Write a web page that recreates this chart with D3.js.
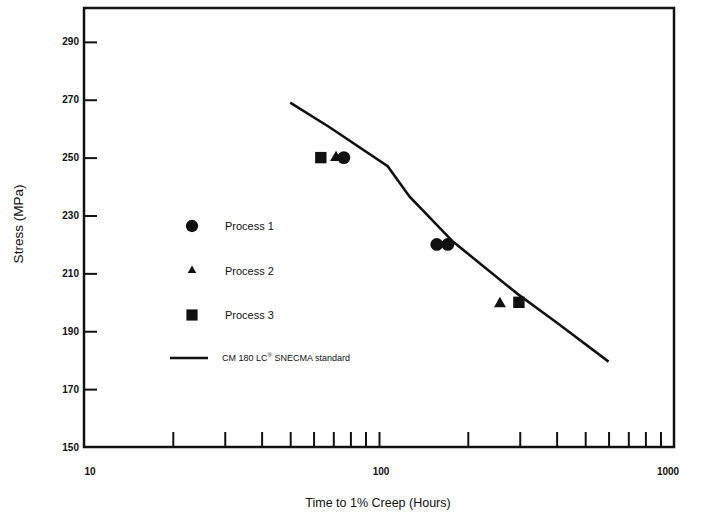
<!DOCTYPE html>
<html>
<head>
<meta charset="utf-8">
<script src="https://cdn.jsdelivr.net/npm/d3@7/dist/d3.min.js"></script>
<style>
  html, body { margin: 0; padding: 0; background: #fff; }
  svg { display: block; }
  text { font-family: "Liberation Sans", Arial, sans-serif; fill: #111; }
</style>
</head>
<body>
<svg id="chart" width="705" height="517"></svg>
<script>
// Creep data: time to 1% creep (hours) vs. applied stress (MPa)
const process1 = [ { t: 157, s: 220 }, { t: 171, s: 220 }, { t: 76, s: 250 } ];
const process2 = [ { t: 71.5, s: 250 }, { t: 257, s: 199.5 } ];
const process3 = [ { t: 63.5, s: 250 }, { t: 298, s: 200 } ];

// CM 180 LC SNECMA standard curve
const standardCurve = [
  { t: 50, s: 269 }, { t: 68, s: 260.5 }, { t: 107, s: 247 }, { t: 127, s: 236.5 },
  { t: 178, s: 221 }, { t: 294, s: 203 }, { t: 400, s: 193 }, { t: 600, s: 179.5 }
];

const yTicks = [170, 190, 210, 230, 250, 270, 290];
const yLabels = [150, 170, 190, 210, 230, 250, 270, 290];
const xLabels = [10, 100, 1000];
const xMinorTicks = [20, 30, 40, 50, 60, 70, 80, 90, 100, 200, 300, 400, 500, 600, 700, 800, 900];

const legendItems = [
  { label: "Process 1", shape: "circle" },
  { label: "Process 2", shape: "triangle" },
  { label: "Process 3", shape: "square" }
];

const svg = d3.select("#chart");
const L = 84, R = 674, T = 8, B = 447;

const x = d3.scaleLog().domain([10, 1000]).range([L, R]);
const y = d3.scaleLinear().domain([150, 301.7]).range([B, T]);

// Inward ticks along the bottom
const xAxis = d3.axisTop(x).tickValues(xMinorTicks).tickSize(15).tickFormat("");
svg.append("g").attr("transform", `translate(0,${B})`).call(xAxis)
  .call(g => g.select(".domain").remove())
  .call(g => g.selectAll("line").attr("stroke", "#111").attr("stroke-width", 2));

// Inward ticks along the left side
const yAxis = d3.axisRight(y).tickValues(yTicks).tickSize(13).tickFormat("");
svg.append("g").attr("transform", `translate(${L},0)`).call(yAxis)
  .call(g => g.select(".domain").remove())
  .call(g => g.selectAll("line").attr("stroke", "#111").attr("stroke-width", 2));

// Frame
svg.append("rect").attr("x", L).attr("y", T).attr("width", R - L).attr("height", B - T)
  .attr("fill", "none").attr("stroke", "#111").attr("stroke-width", 2.5);

// Tick labels
svg.append("g").selectAll("text").data(yLabels).join("text")
  .attr("x", 79).attr("y", d => y(d) + 3.5)
  .attr("text-anchor", "end").attr("font-size", 10).attr("font-weight", "bold")
  .text(d => d);

svg.append("g").selectAll("text").data(xLabels).join("text")
  .attr("x", (d, i) => x(d) + (i === 0 ? 6 : i === 2 ? -6 : 2)).attr("y", 475)
  .attr("text-anchor", "middle").attr("font-size", 10).attr("font-weight", "bold")
  .text(d => d);

// Axis titles
svg.append("text").attr("x", 378).attr("y", 507).attr("text-anchor", "middle")
  .attr("font-size", 12.5).text("Time to 1% Creep (Hours)");
svg.append("text").attr("transform", "translate(23,224) rotate(-90)")
  .attr("text-anchor", "middle").attr("font-size", 13.5).text("Stress (MPa)");

// Standard curve
const line = d3.line().x(d => x(d.t)).y(d => y(d.s));
svg.append("path").datum(standardCurve).attr("d", line)
  .attr("fill", "none").attr("stroke", "#111").attr("stroke-width", 2.6);

// Markers
const sym = {
  circle: d3.symbol().type(d3.symbolCircle).size(130),
  triangle: d3.symbol().type(d3.symbolTriangle).size(62),
  square: d3.symbol().type(d3.symbolSquare).size(130)
};
function drawMarkers(data, shape) {
  svg.append("g").selectAll("path").data(data).join("path")
    .attr("transform", d => `translate(${x(d.t)},${y(d.s)})`)
    .attr("d", sym[shape]()).attr("fill", "#111");
}
drawMarkers(process1.slice(2), "circle");
drawMarkers(process2, "triangle");
drawMarkers(process3, "square");
drawMarkers(process1.slice(0, 2), "circle");

// Legend
const legendSym = {
  circle: d3.symbol().type(d3.symbolCircle).size(120),
  triangle: d3.symbol().type(d3.symbolTriangle).size(32),
  square: d3.symbol().type(d3.symbolSquare).size(125)
};
const lg = svg.append("g");
legendItems.forEach((it, i) => {
  const cy = 226 + i * 44.5;
  lg.append("path").attr("transform", `translate(192,${cy})`)
    .attr("d", legendSym[it.shape]()).attr("fill", "#111");
  lg.append("text").attr("x", 225).attr("y", cy + 4).attr("font-size", 11).text(it.label);
});
lg.append("line").attr("x1", 170).attr("x2", 208).attr("y1", 358).attr("y2", 358)
  .attr("stroke", "#111").attr("stroke-width", 2.5);
const st = lg.append("text").attr("x", 222).attr("y", 361).attr("font-size", 9);
st.append("tspan").text("CM 180 LC");
st.append("tspan").attr("font-size", 6).attr("dy", -4).text("®");
st.append("tspan").attr("dy", 4).text(" SNECMA standard");
</script>
</body>
</html>
